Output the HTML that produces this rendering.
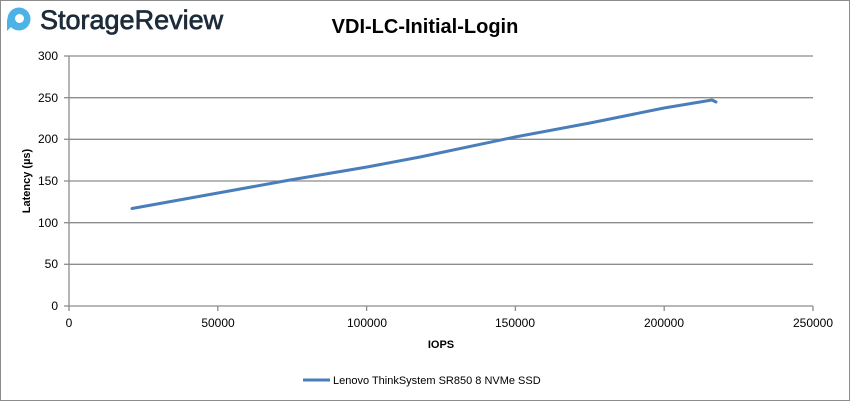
<!DOCTYPE html>
<html><head><style>
body{margin:0;background:#fff;}
.w{position:relative;width:848px;height:399px;border:1px solid #8c8c8c;overflow:hidden;font-family:"Liberation Sans",sans-serif;}
</style></head><body><div class="w">
<svg width="848" height="399" style="position:absolute;left:-1px;top:-1px">
<circle cx="19" cy="19" r="11.5" fill="#4db3e6"/>
<path d="M7 19 L7 31 L14 24 Z" fill="#4db3e6"/>
<circle cx="19.5" cy="18.5" r="4.5" fill="#fff"/>
<text x="40" y="29" font-size="27" fill="#1d2b3a" stroke="#1d2b3a" stroke-width="0.7" font-family="Liberation Sans">StorageReview</text>
<text x="425" y="33" font-size="20" font-weight="bold" text-anchor="middle" fill="#000">VDI-LC-Initial-Login</text>
<g stroke="#8c8c8c" stroke-width="1.3">
<line x1="69" y1="56" x2="813" y2="56"/><line x1="69" y1="97.7" x2="813" y2="97.7"/>
<line x1="69" y1="139.3" x2="813" y2="139.3"/><line x1="69" y1="181" x2="813" y2="181"/>
<line x1="69" y1="222.7" x2="813" y2="222.7"/><line x1="69" y1="264.3" x2="813" y2="264.3"/>
<line x1="69" y1="306" x2="813" y2="306"/><line x1="69" y1="56" x2="69" y2="306"/>
<line x1="64" y1="56" x2="69" y2="56"/><line x1="64" y1="97.7" x2="69" y2="97.7"/><line x1="64" y1="139.3" x2="69" y2="139.3"/><line x1="64" y1="181" x2="69" y2="181"/><line x1="64" y1="222.7" x2="69" y2="222.7"/><line x1="64" y1="264.3" x2="69" y2="264.3"/><line x1="64" y1="306" x2="69" y2="306"/>
<line x1="69" y1="306" x2="69" y2="311"/><line x1="217.8" y1="306" x2="217.8" y2="311"/><line x1="366.6" y1="306" x2="366.6" y2="311"/><line x1="515.4" y1="306" x2="515.4" y2="311"/><line x1="664.2" y1="306" x2="664.2" y2="311"/><line x1="813" y1="306" x2="813" y2="311"/>
</g>
<g font-size="12" fill="#000" text-anchor="end">
<text x="58" y="60">300</text><text x="58" y="102">250</text><text x="58" y="143">200</text><text x="58" y="185">150</text><text x="58" y="227">100</text><text x="58" y="268">50</text><text x="58" y="310">0</text>
</g>
<g font-size="12" fill="#000" text-anchor="middle">
<text x="69" y="327">0</text><text x="218" y="327">50000</text><text x="367" y="327">100000</text><text x="515" y="327">150000</text><text x="664" y="327">200000</text><text x="813" y="327">250000</text>
</g>
<text x="441" y="348" font-size="11" font-weight="bold" text-anchor="middle">IOPS</text>
<text transform="translate(30,181) rotate(-90)" font-size="11" font-weight="bold" text-anchor="middle">Latency (µs)</text>
<path d="M132 208.5 L218 193 L290 180 L367 167 L420 157 L515 137 L590 123 L664 108 L712 100 L716 102" fill="none" stroke="#4a7ebb" stroke-width="3" stroke-linejoin="round" stroke-linecap="round"/>
<line x1="303" y1="380" x2="330" y2="380" stroke="#4a7ebb" stroke-width="3"/>
<text x="333" y="384" font-size="11">Lenovo ThinkSystem SR850 8 NVMe SSD</text>
</svg>
</div></body></html>
